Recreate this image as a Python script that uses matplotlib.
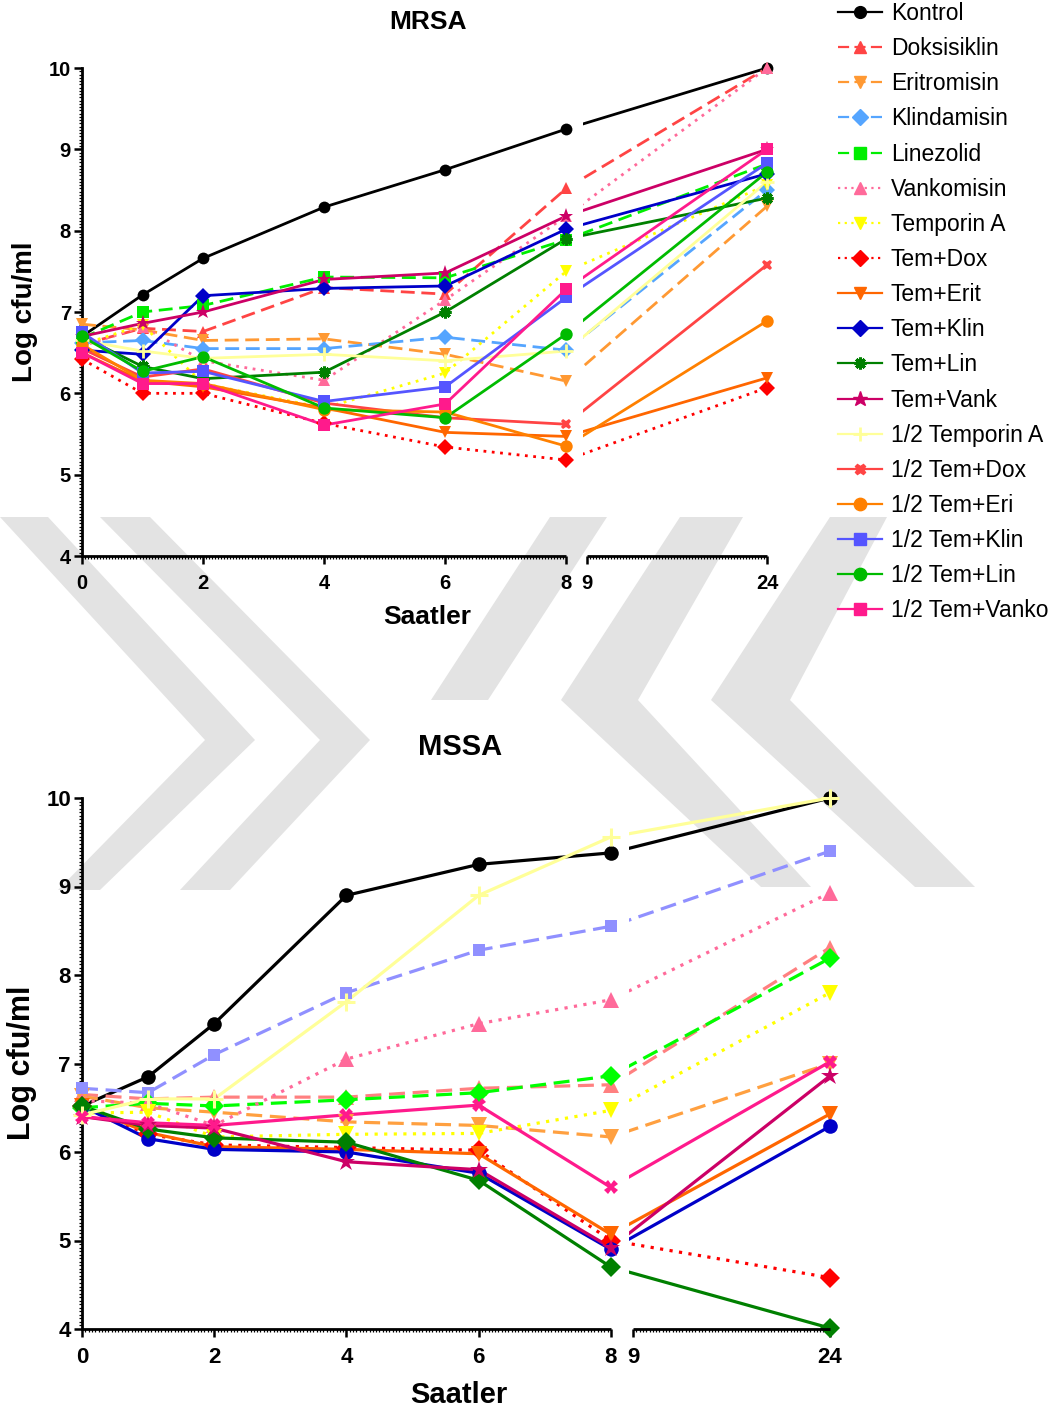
import numpy as np
import matplotlib
matplotlib.use('Agg')
import matplotlib.pyplot as plt
from matplotlib.lines import Line2D
from matplotlib.patches import Polygon
from matplotlib.path import Path
from matplotlib.ticker import FixedLocator

plt.rcParams['font.family'] = ['Liberation Sans', 'DejaVu Sans']

W, H = 1061, 1416

# ---------------- data ----------------
hours = [0, 1, 2, 4, 6, 8, 24]
tick_hours = [0, 2, 4, 6, 8, 9, 24]
yticks = [4, 5, 6, 7, 8, 9, 10]

labels = ["Kontrol", "Doksisiklin", "Eritromisin", "Klindamisin", "Linezolid",
          "Vankomisin", "Temporin A", "Tem+Dox", "Tem+Erit", "Tem+Klin",
          "Tem+Lin", "Tem+Vank", "1/2 Temporin A", "1/2 Tem+Dox",
          "1/2 Tem+Eri", "1/2 Tem+Klin", "1/2 Tem+Lin", "1/2 Tem+Vanko"]

# MRSA (log cfu/ml)
mrsa_kontrol      = [6.70, 7.21, 7.66, 8.29, 8.75, 9.25, 10.00]
mrsa_doksisiklin  = [6.60, 6.80, 6.76, 7.30, 7.22, 8.52, 10.00]
mrsa_eritromisin  = [6.85, 6.78, 6.65, 6.67, 6.48, 6.15, 8.30]
mrsa_klindamisin  = [6.62, 6.65, 6.55, 6.55, 6.69, 6.53, 8.50]
mrsa_linezolid    = [6.68, 7.00, 7.08, 7.43, 7.42, 7.89, 8.82]
mrsa_vankomisin   = [6.58, 6.82, 6.40, 6.16, 7.15, 8.18, 10.00]
mrsa_temporin     = [6.60, 6.84, 6.12, 5.82, 6.25, 7.50, 8.56]
mrsa_tem_dox      = [6.42, 6.00, 6.00, 5.63, 5.34, 5.18, 6.07]
mrsa_tem_erit     = [6.50, 6.15, 6.08, 5.82, 5.52, 5.47, 6.19]
mrsa_tem_klin     = [6.53, 6.48, 7.20, 7.29, 7.32, 8.02, 8.70]
mrsa_tem_lin      = [6.70, 6.33, 6.18, 6.26, 7.00, 7.90, 8.40]
mrsa_tem_vank     = [6.70, 6.86, 7.00, 7.40, 7.48, 8.18, 9.00]
mrsa_h_temporin   = [6.65, 6.52, 6.43, 6.48, 6.40, 6.52, 8.60]
mrsa_h_tem_dox    = [6.55, 6.20, 6.30, 5.88, 5.70, 5.62, 7.58]
mrsa_h_tem_eri    = [6.60, 6.16, 6.12, 5.80, 5.77, 5.35, 6.89]
mrsa_h_tem_klin   = [6.75, 6.25, 6.27, 5.90, 6.08, 7.18, 8.83]
mrsa_h_tem_lin    = [6.70, 6.27, 6.45, 5.82, 5.70, 6.73, 8.72]
mrsa_h_tem_vanko  = [6.50, 6.12, 6.12, 5.61, 5.87, 7.28, 9.00]

mrsa_values = [mrsa_kontrol, mrsa_doksisiklin, mrsa_eritromisin, mrsa_klindamisin,
               mrsa_linezolid, mrsa_vankomisin, mrsa_temporin, mrsa_tem_dox,
               mrsa_tem_erit, mrsa_tem_klin, mrsa_tem_lin, mrsa_tem_vank,
               mrsa_h_temporin, mrsa_h_tem_dox, mrsa_h_tem_eri, mrsa_h_tem_klin,
               mrsa_h_tem_lin, mrsa_h_tem_vanko]

# MSSA (log cfu/ml)
mssa_kontrol      = [6.52, 6.85, 7.45, 8.90, 9.25, 9.38, 10.00]
mssa_doksisiklin  = [6.65, 6.60, 6.62, 6.62, 6.72, 6.76, 8.31]
mssa_eritromisin  = [6.63, 6.50, 6.45, 6.34, 6.30, 6.17, 7.00]
mssa_klindamisin  = [6.72, 6.67, 7.10, 7.80, 8.28, 8.55, 9.40]
mssa_linezolid    = [6.50, 6.55, 6.52, 6.59, 6.67, 6.86, 8.19]
mssa_vankomisin   = [6.58, 6.55, 6.30, 7.05, 7.45, 7.72, 8.93]
mssa_temporin     = [6.44, 6.45, 6.17, 6.20, 6.21, 6.47, 7.80]
mssa_tem_dox      = [6.52, 6.20, 6.08, 6.05, 6.02, 5.00, 4.58]
mssa_tem_erit     = [6.52, 6.22, 6.06, 6.03, 5.98, 5.07, 6.43]
mssa_tem_klin     = [6.52, 6.15, 6.03, 6.00, 5.76, 4.90, 6.29]
mssa_tem_lin      = [6.52, 6.26, 6.16, 6.11, 5.68, 4.70, 4.01]
mssa_tem_vank     = [6.40, 6.30, 6.27, 5.89, 5.80, 4.92, 6.86]
mssa_h_temporin   = [6.42, 6.60, 6.60, 7.70, 8.90, 9.56, 10.00]
mssa_h_tem_dox    = [6.40, 6.33, 6.30, 6.42, 6.53, 5.60, 7.02]

mssa_values = [mssa_kontrol, mssa_doksisiklin, mssa_eritromisin, mssa_klindamisin,
               mssa_linezolid, mssa_vankomisin, mssa_temporin, mssa_tem_dox,
               mssa_tem_erit, mssa_tem_klin, mssa_tem_lin, mssa_tem_vank,
               mssa_h_temporin, mssa_h_tem_dox]

# ---------------- styles ----------------
DASH = (0, (5, 2.4))
DOT = (0, (1, 2))
# (color, linestyle, marker, marker size scale, marker edge width)
mrsa_styles = [
    ("#000000", "-", "o", 1.0, 0),
    ("#ff4444", DASH, "^", 1.05, 0),
    ("#ff9933", DASH, "v", 1.05, 0),
    ("#55a5ff", DASH, "D", 0.95, 0),
    ("#00ee00", DASH, "s", 0.95, 0),
    ("#ff6a9a", DOT, "^", 1.05, 0),
    ("#ffff00", DOT, "v", 1.05, 0),
    ("#ff0000", DOT, "D", 0.95, 0),
    ("#ff6600", "-", "v", 1.05, 0),
    ("#0000c8", "-", "D", 0.95, 0),
    ("#008000", "-", (8, 2, 0), 1.0, 2.2),
    ("#cc0066", "-", "*", 1.3, 0),
    ("#ffff99", "-", "+", 1.2, 2.0),
    ("#ff4444", "-", "X", 0.9, 0),
    ("#ff8000", "-", "o", 1.05, 0),
    ("#5555ff", "-", "s", 0.95, 0),
    ("#00bb00", "-", "o", 1.05, 0),
    ("#ff1a8c", "-", "s", 0.95, 0),
]
mssa_styles = [
    ("#000000", "-", "o", 1.0, 0),
    ("#ff8080", DASH, "^", 1.05, 0),
    ("#ffa040", DASH, "v", 1.05, 0),
    ("#9090ff", DASH, "s", 0.85, 0),
    ("#00ff00", DASH, "D", 0.95, 0),
    ("#ff6a9a", DOT, "^", 1.05, 0),
    ("#ffff00", DOT, "v", 1.05, 0),
    ("#ff0000", DOT, "D", 0.95, 0),
    ("#ff6600", "-", "v", 1.05, 0),
    ("#0000c8", "-", "o", 1.0, 0),
    ("#008000", "-", "D", 0.95, 0),
    ("#cc0066", "-", "*", 1.3, 0),
    ("#ffff99", "-", "+", 1.2, 2.2),
    ("#ff1a8c", "-", "X", 0.9, 0),
]

# broken x axis as a piecewise-linear scale
G, K = 0.337, 0.1985


def fwd(x):
    x = np.asarray(x, dtype=float)
    return np.where(x <= 8, x, np.where(x <= 9, 8 + (x - 8) * G, 8 + G + (x - 9) * K))


def inv(u):
    u = np.asarray(u, dtype=float)
    return np.where(u <= 8, u, np.where(u <= 8 + G, 8 + (u - 8) / G, 9 + (u - 8 - G) / K))


fig = plt.figure(figsize=(W / 100, H / 100), dpi=100)


def px(x, y):
    return (x / W, 1 - y / H)


# ---------------- faint background watermark ----------------
wm_color = "#e3e3e3"
wm_shapes = [
    [(0, 517), (48, 517), (255, 740), (100, 890), (58, 890), (205, 740)],
    [(100, 517), (150, 517), (370, 740), (230, 890), (180, 890), (320, 740)],
    [(550, 517), (607, 517), (488, 700), (431, 700)],
    [(680, 517), (743, 517), (638, 700), (811, 887), (761, 887), (561, 700)],
    [(830, 517), (887, 517), (790, 700), (975, 887), (915, 887), (711, 700)],
]
for shp in wm_shapes:
    fig.add_artist(Polygon([px(*p) for p in shp], closed=True, facecolor=wm_color,
                           edgecolor="none", transform=fig.transFigure, zorder=-5))


def make_axes(rect, values, styles, lw, ms, tick_fs):
    ax = fig.add_axes(rect)
    ax.set_facecolor("none")
    ax.set_xscale("function", functions=(fwd, inv))
    ax.set_xlim(0, 24)
    ax.set_ylim(4, 10)
    ax.spines["top"].set_visible(False)
    ax.spines["right"].set_visible(False)
    ax.spines["bottom"].set_visible(False)
    ax.spines["left"].set_linewidth(2.0)

    # clip path that leaves a gap between 8 and 9 h
    total = float(fwd(24))
    f8 = float(fwd(8.0)) / total
    f9 = float(fwd(8.82)) / total
    verts = [(-0.2, -0.2), (f8, -0.2), (f8, 1.2), (-0.2, 1.2), (-0.2, -0.2),
             (f9, -0.2), (1.2, -0.2), (1.2, 1.2), (f9, 1.2), (f9, -0.2)]
    codes = [Path.MOVETO, Path.LINETO, Path.LINETO, Path.LINETO, Path.CLOSEPOLY] * 2
    gap_path = Path(verts, codes)

    handles = []
    for vals, (c, ls, mk, msc, mew) in zip(values, styles):
        ln, = ax.plot(hours, vals, color=c, linestyle=ls, lw=lw, zorder=2,
                      dash_capstyle="butt")
        ln.set_clip_path(gap_path, ax.transAxes)
        ln.set_clip_box(None)
        ax.plot(hours, vals, linestyle="none", marker=mk, ms=ms * msc, color=c,
                mec=c, mew=mew, zorder=4, clip_on=False)
        handles.append(Line2D([], [], color=c, linestyle=ls, lw=1.6, marker=mk,
                              ms=8.5 * msc, mec=c, mew=mew if mew else 1.0))

    # broken bottom axis line
    ax.plot([0, 8], [4, 4], color="black", lw=2.0, clip_on=False, zorder=5,
            solid_capstyle="butt")
    ax.plot([9, 24], [4, 4], color="black", lw=2.0, clip_on=False, zorder=5,
            solid_capstyle="butt")

    ax.set_xticks(tick_hours)
    ax.set_xticklabels([str(t) for t in tick_hours], fontweight="bold", fontsize=tick_fs)
    ax.set_yticks(yticks)
    ax.set_yticklabels([str(t) for t in yticks], fontweight="bold", fontsize=tick_fs)
    ax.xaxis.set_minor_locator(FixedLocator(list(np.arange(0, 8.001, 0.05)) +
                                            list(np.arange(9, 24.001, 0.25))))
    ax.yaxis.set_minor_locator(FixedLocator(np.arange(4, 10.001, 0.04)))
    ax.tick_params(axis="both", which="major", direction="out", length=6, width=1.8)
    ax.tick_params(axis="x", which="major", pad=7)
    ax.tick_params(axis="y", which="major", pad=2)
    ax.tick_params(axis="both", which="minor", direction="out", length=2.2, width=0.9)
    return ax, handles


ax1, handles = make_axes([82 / W, 1 - 556 / H, 685 / W, 488 / H],
                         mrsa_values, mrsa_styles, lw=2.0, ms=8.5, tick_fs=14.5)
ax2, _ = make_axes([82 / W, 1 - 1329 / H, 748 / W, 531 / H],
                   mssa_values, mssa_styles, lw=2.3, ms=10.5, tick_fs=16)

# texts
fig.text(*px(428, 22), "MRSA", ha="center", va="center", fontsize=19, fontweight="bold")
fig.text(*px(427, 617), "Saatler", ha="center", va="center", fontsize=19, fontweight="bold")
fig.text(*px(25, 312), "Log cfu/ml", ha="center", va="center", rotation=90,
         fontsize=20, fontweight="bold")
fig.text(*px(460, 747), "MSSA", ha="center", va="center", fontsize=21, fontweight="bold")
fig.text(*px(459, 1395), "Saatler", ha="center", va="center", fontsize=21, fontweight="bold")
fig.text(*px(22, 1063), "Log cfu/ml", ha="center", va="center", rotation=90,
         fontsize=22, fontweight="bold")

fig.legend(handles, labels, loc="upper left", bbox_to_anchor=(838 / W, 1 - 2 / H),
           frameon=False, fontsize=16.5, labelspacing=0.53, handlelength=1.9,
           handletextpad=0.4, borderpad=0, borderaxespad=0)

fig.savefig("out.png", dpi=100)
